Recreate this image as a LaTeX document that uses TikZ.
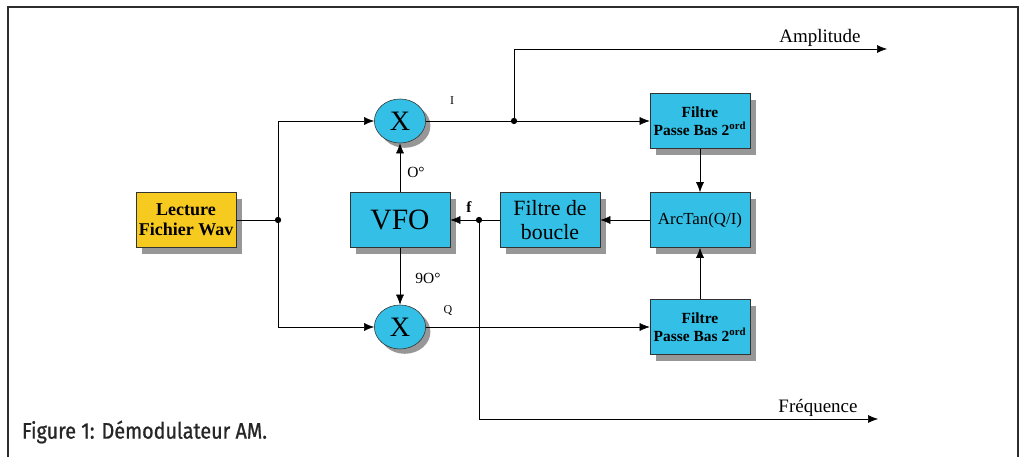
\documentclass[tikz,border=0pt]{standalone}
\usepackage{fontspec}
\setmainfont{Liberation Serif}
\newfontfamily\capfont[FakeStretch=0.88, FakeBold=0.9]{Fira Sans}
\usetikzlibrary{shapes.geometric, arrows.meta, positioning, shadows}

\definecolor{boxblue}{RGB}{52,192,230}
\definecolor{boxyellow}{RGB}{247,202,32}
\definecolor{framegray}{RGB}{45,45,45}

\begin{document}
\begin{tikzpicture}[
    x=0.025cm, y=-0.025cm,
    block/.style={rectangle, draw=black!80, fill=boxblue, minimum width=2.5cm, minimum height=1.375cm, align=center, inner sep=1pt,
        drop shadow={shadow xshift=0.16cm, shadow yshift=-0.16cm, fill=black!45, opacity=0.9}},
    srcbox/.style={block, fill=boxyellow, font=\bfseries\fontsize{12.8}{14}\selectfont},
    lpbox/.style={block, font=\bfseries\fontsize{11}{13}\selectfont},
    mixer/.style={ellipse, draw=black!80, fill=boxblue, minimum width=1.28cm, minimum height=1.1cm, inner sep=0pt, font=\fontsize{20}{20}\selectfont,
        drop shadow={shadow xshift=0.12cm, shadow yshift=-0.12cm, fill=black!45, opacity=0.9}},
    dot/.style={circle, fill=black, inner sep=0pt, minimum size=4.5pt},
    lbl/.style={font=\fontsize{8.5}{9}\selectfont},
    outlbl/.style={font=\fontsize{13.5}{14}\selectfont},
    arrow/.style={-{Latex[length=2.5mm, width=2mm]}, thin},
]
\useasboundingbox (0,0) rectangle (1024,457);

% Frame
\draw[framegray, line width=1.8pt] (8,457) -- (8,7) -- (1018,7) -- (1018,457);

% Nodes
\node [srcbox] (lecture) at (186,220) {Lecture\\Fichier Wav};
\node [dot] (jin) at (278,220) {};
\node [mixer] (mixI) at (400,121) {X};
\node [block, font=\fontsize{21}{21}\selectfont] (vfo) at (400,220) {VFO};
\node [mixer] (mixQ) at (400,327) {X};
\node [dot] (jI) at (514,121) {};
\node [lpbox] (lpI) at (700,121) {Filtre\\Passe Bas 2\textsuperscript{ord}};
\node [block, font=\fontsize{12}{13}\selectfont] (atan) at (700,220) {ArcTan(Q/I)};
\node [lpbox] (lpQ) at (700,327) {Filtre\\Passe Bas 2\textsuperscript{ord}};
\node [block, font=\fontsize{15.5}{17}\selectfont] (loop) at (550,220) {Filtre de\\boucle};
\node [dot] (jf) at (479,220) {};
\coordinate (ampEnd) at (887,49);
\coordinate (freqEnd) at (878,419);

% Labels
\node [lbl] at (452,101) {I};
\node [lbl] at (448,311) {Q};
\node [font=\fontsize{11}{12}\selectfont] at (416,172) {O°};
\node [font=\fontsize{11}{12}\selectfont] at (428,278) {9O°};
\node [font=\bfseries\fontsize{11}{12}\selectfont] at (469,207) {f};
\node [outlbl] (amp) at (820,38) {Amplitude};
\node [outlbl] (freq) at (818,408) {Fréquence};
\node [anchor=west, text=black!85, font=\capfont\fontsize{16}{18}\selectfont] (caption) at (17,432) {Figure 1: Démodulateur AM.};

% Arcs/Paths
\draw (lecture) -- (jin);
\draw [arrow] (jin) |- (mixI);
\draw [arrow] (jin) |- (mixQ);
\draw [arrow] (vfo) -- (mixI);
\draw [arrow] (vfo) -- (mixQ);
\draw (mixI) -- (jI);
\draw [arrow] (jI) -- (lpI);
\draw [arrow] (jI) |- (ampEnd);
\draw [arrow] (lpI) -- (atan);
\draw [arrow] (lpQ) -- (atan);
\draw [arrow] (atan) -- (loop);
\draw (loop) -- (jf);
\draw [arrow] (jf) -- (vfo);
\draw [arrow] (jf) |- (freqEnd);
\draw [arrow] (mixQ) -- (lpQ);

\end{tikzpicture}
\end{document}
